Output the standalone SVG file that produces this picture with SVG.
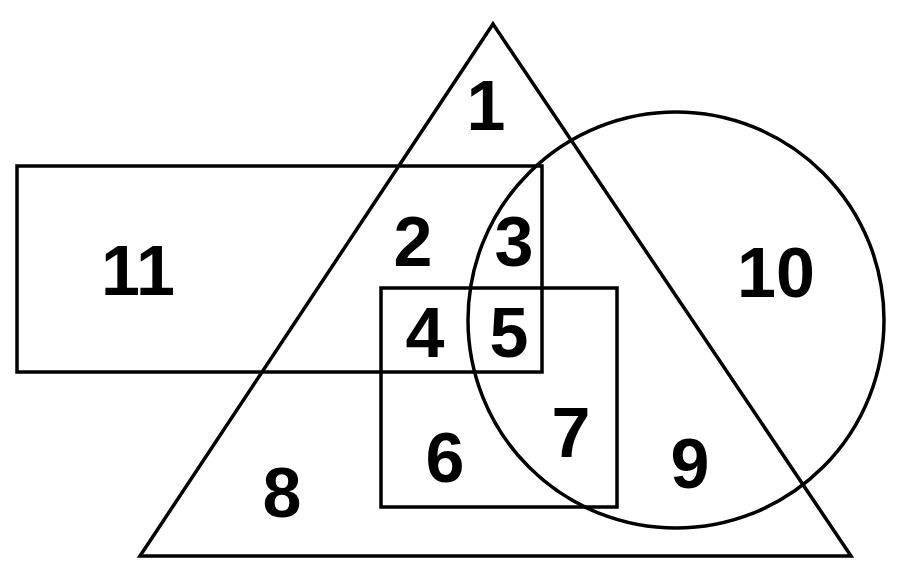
<svg xmlns="http://www.w3.org/2000/svg" width="913" height="575" viewBox="0 0 913 575">
<style>
.s{fill:none;stroke:#000;stroke-width:3.5;stroke-linejoin:miter}
.t{font-family:"Liberation Sans",Arial,sans-serif;font-weight:bold;font-size:70px;fill:#000;text-anchor:middle}
</style>
<rect width="913" height="575" fill="#fff"/>
<g id="triangle"><polygon class="s" points="493,24 851,556 140,556"/></g>
<g id="circle"><circle class="s" cx="676" cy="320" r="208" stroke-width="3"/></g>
<g id="rect-large"><rect class="s" x="17" y="166" width="525" height="206" stroke-width="4"/></g>
<g id="rect-small"><rect class="s" x="381" y="288" width="236" height="219" stroke-width="4"/></g>
<g id="labels">
<text class="t" x="486" y="130">1</text>
<text class="t" x="413" y="266">2</text>
<text class="t" x="514" y="266">3</text>
<text class="t" x="425" y="357">4</text>
<text class="t" x="509" y="357">5</text>
<text class="t" x="445" y="482">6</text>
<text class="t" x="571" y="457">7</text>
<text class="t" x="282" y="517">8</text>
<text class="t" x="690" y="488">9</text>
<text class="t" x="776" y="297">10</text>
<text class="t" x="138" y="295">11</text>
</g>
</svg>
